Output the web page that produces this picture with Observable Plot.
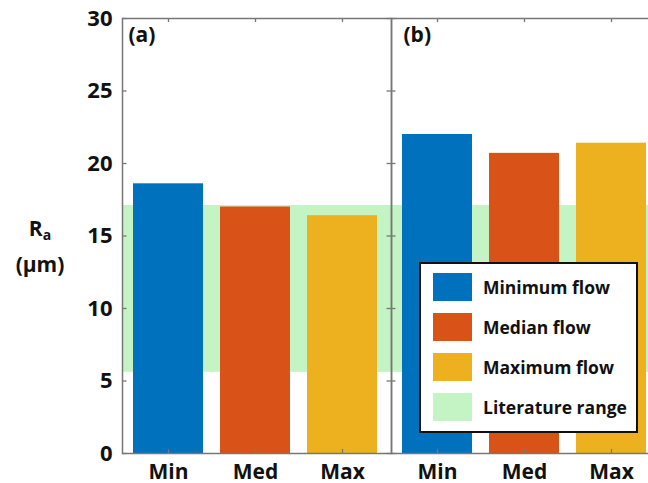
<!DOCTYPE html>
<html>
<head>
<meta charset="utf-8">
<script src="https://cdn.jsdelivr.net/npm/d3@7"></script>
<script src="https://cdn.jsdelivr.net/npm/@observablehq/plot@0.6"></script>
<style>
  html, body { margin: 0; padding: 0; background: #fff; overflow: hidden; }
  #wrap { position: relative; width: 648px; height: 483px; overflow: hidden; font-family: "Open Sans", sans-serif; }
  #chart { position: absolute; left: 0; top: 0; width: 660px; }
  #chart svg { max-width: none !important; width: 660px !important; height: 483px !important; }
  #ylabel { position: absolute; left: 0; width: 80px; top: 210px; text-align: center; font-weight: 700; font-size: 21px; line-height: 36px; color: #111; }
  #ylabel sub { font-size: 14px; vertical-align: -4px; line-height: 0; }
  #legend { position: absolute; left: 419px; top: 262px; width: 215px; height: 167px; border: 2px solid #111; background: #fff; }
  .item { position: absolute; left: 12px; height: 28px; display: flex; align-items: center; }
  .sw { width: 39px; height: 28px; margin-right: 11px; }
  .lab { font-weight: 700; font-size: 17.5px; color: #111; white-space: nowrap; }
</style>
</head>
<body>
<div id="wrap">
  <div id="chart"></div>
  <div id="ylabel">R<sub>a</sub><br>(µm)</div>
  <div id="legend"></div>
</div>
<script>
// Roughness Ra for each flow condition, two sites
const categories = ["Min", "Med", "Max"];
const panelKeys = ["a", "b"];
const panelLabels = ["(a)", "(b)"];
const valuesA = [18.6, 17.0, 16.4];
const valuesB = [22.0, 20.7, 21.4];
const literatureRange = [5.6, 17.1];
const yTicks = [0, 5, 10, 15, 20, 25, 30];
const seriesNames = ["Minimum flow", "Median flow", "Maximum flow", "Literature range"];
const seriesColors = ["#0072BD", "#D95319", "#EDB120", "#c4f3c4"];

const bars = [
  ...categories.map((c, i) => ({panel: panelKeys[0], cat: c, value: valuesA[i]})),
  ...categories.map((c, i) => ({panel: panelKeys[1], cat: c, value: valuesB[i]}))
];
const bands = panelKeys.map(p => ({panel: p, lo: literatureRange[0], hi: literatureRange[1]}));

// Panel (b) runs past the right edge of the page
const width = 660, height = 483;
const marginLeft = 121, marginTop = 18, marginBottom = 30;
const facetWidth = (width - marginLeft) / panelKeys.length;
const innerHeight = height - marginTop - marginBottom;
const axisColor = "#777";

const chart = Plot.plot({
  width, height, marginLeft, marginRight: 0, marginTop, marginBottom,
  facet: {marginTop: 0, marginBottom: 0, marginLeft: 0, marginRight: 0},
  style: {fontFamily: "Open Sans, sans-serif", color: "#111", background: "#fff"},
  fx: {domain: panelKeys, padding: 0, axis: null},
  x: {domain: categories, paddingInner: 0.2, paddingOuter: 0.145, align: 0.43, axis: null},
  y: {domain: [0, 30], axis: null},
  color: {domain: categories, range: seriesColors.slice(0, 3)},
  marks: [
    Plot.rect(bands, {fx: "panel", y1: "lo", y2: "hi", fill: seriesColors[3]}),
    Plot.barY(bars, {fx: "panel", x: "cat", y: "value", fill: "cat"}),
    Plot.frame({stroke: axisColor, strokeWidth: 1.5}),
    Plot.tickY(yTicks, {y: d => d, insetRight: facetWidth - 5, stroke: axisColor, strokeWidth: 1.3}),
    Plot.tickY(yTicks, {y: d => d, insetLeft: facetWidth - 5, stroke: axisColor, strokeWidth: 1.3}),
    Plot.tickX(categories, {x: d => d, insetBottom: innerHeight - 4, stroke: axisColor, strokeWidth: 1.3}),
    Plot.tickX(categories, {x: d => d, insetTop: innerHeight - 4, stroke: axisColor, strokeWidth: 1.3}),
    Plot.axisY(yTicks, {tickSize: 0, tickPadding: 10, fontSize: 22, fontWeight: 700, fill: "#111", label: null}),
    Plot.axisX(categories, {tickSize: 0, tickPadding: 11, fontSize: 21, fontWeight: 700, fill: "#111", label: null}),
    Plot.text([{panel: panelKeys[0], t: panelLabels[0]}], {fx: "panel", text: "t", frameAnchor: "top-left", dx: 6, dy: 9, fontSize: 21, fontWeight: 700, fill: "#111"}),
    Plot.text([{panel: panelKeys[1], t: panelLabels[1]}], {fx: "panel", text: "t", frameAnchor: "top-left", dx: 12, dy: 9, fontSize: 21, fontWeight: 700, fill: "#111"})
  ]
});
document.getElementById("chart").appendChild(chart);

// Legend box inside panel (b)
const legend = document.getElementById("legend");
seriesNames.forEach((name, i) => {
  const item = document.createElement("div");
  item.className = "item";
  item.style.top = (9 + i * 40) + "px";
  item.innerHTML = `<div class="sw" style="background:${seriesColors[i]}"></div><span class="lab">${name}</span>`;
  legend.appendChild(item);
});
</script>
</body>
</html>
